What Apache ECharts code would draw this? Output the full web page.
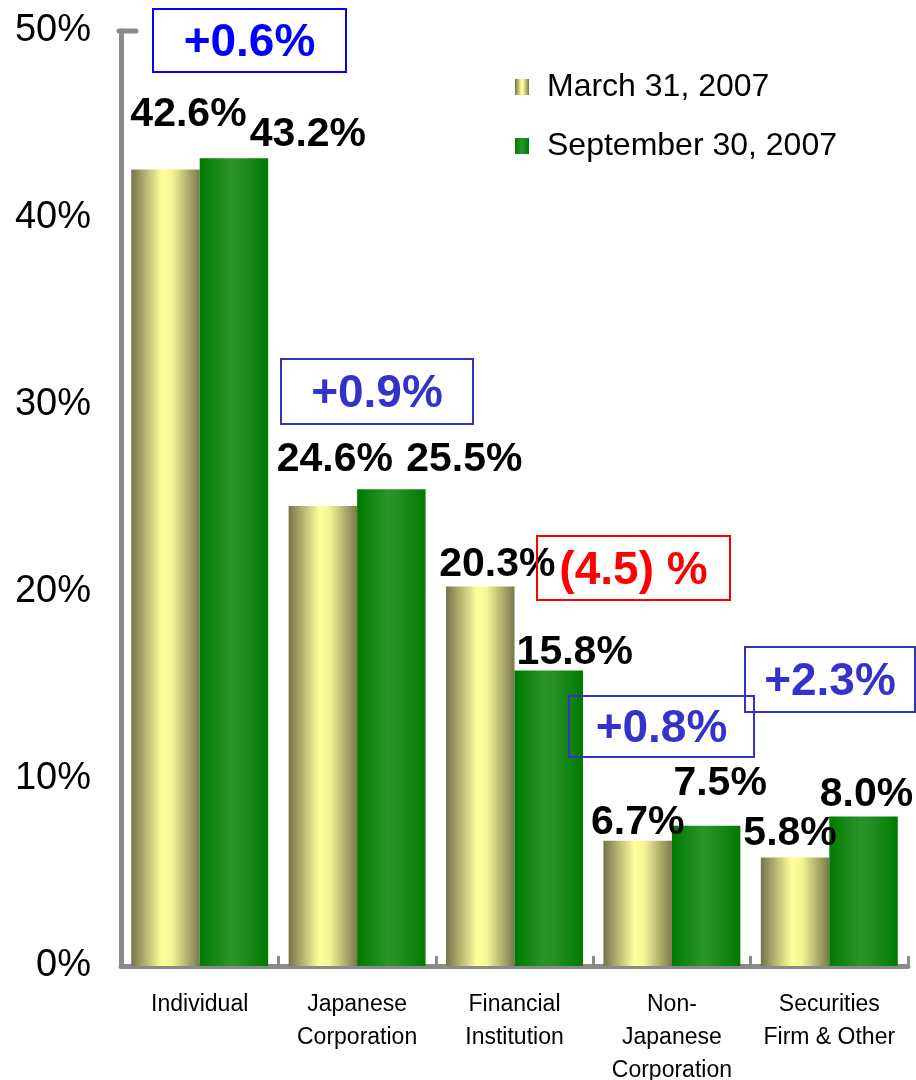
<!DOCTYPE html>
<html>
  <head>
    <meta charset="utf-8">
    <title>Shareholder composition</title>
    <script type="text/javascript" src="https://cdn.jsdelivr.net/npm/echarts@6/dist/echarts.min.js"></script>
    <style>
      html, body { margin: 0; padding: 0; background: #fff; }
      #chart { width: 916px; height: 1080px; }
    </style>
  </head>
  <body>
    <div id="chart"></div>
    <script type="text/javascript">

      // data
      var categories = ["Individual", "Japanese\nCorporation", "Financial\nInstitution", "Non-\nJapanese\nCorporation", "Securities\nFirm & Other"];
      var seriesNames = ["March 31, 2007", "September 30, 2007"];
      var march = [42.6, 24.6, 20.3, 6.7, 5.8];
      var sept = [43.2, 25.5, 15.8, 7.5, 8.0];
      var changeLabels = ["+0.6%", "+0.9%", "(4.5) %", "+0.8%", "+2.3%"];
      var yTicks = [0, 10, 20, 30, 40, 50];

      // label placement (px shifts from the bar top)
      var marchShift = [[23, -35], [12, -26], [17, -2], [0, 2], [-5, -4]];
      var septShift = [[74, -3], [73, -9], [26, 2], [14, -22], [3, -2]];

      // change boxes: x, y, w, h, colour
      var boxes = [
        [153, 9, 193, 63, "#0000ff"],
        [281, 359, 192, 65, "#3333cc"],
        [537, 536, 193, 64, "#ff0000"],
        [569, 696, 185, 61, "#3333cc"],
        [745, 647, 170, 65, "#3333cc"]
      ];

      var FONT = "'Liberation Sans', Arial, sans-serif";
      var GRAY = "#8a8a8a";

      var yellowGrad = new echarts.graphic.LinearGradient(0, 0, 1, 0, [
        { offset: 0, color: "#76734a" },
        { offset: 0.45, color: "#ffff9c" },
        { offset: 0.6, color: "#f4f494" },
        { offset: 1, color: "#7a774c" }
      ]);
      var greenGrad = new echarts.graphic.LinearGradient(0, 0, 1, 0, [
        { offset: 0, color: "#007a00" },
        { offset: 0.45, color: "#2a942a" },
        { offset: 0.55, color: "#279127" },
        { offset: 1, color: "#007a00" }
      ]);

      function buildData(vals, shifts){
        var out = [];
        for (var i = 0; i < vals.length; i++){
          out.push({
            value: vals[i],
            label: { offset: shifts[i] }
          });
        }
        return out;
      }

      var barLabel = {
        show: true,
        position: "top",
        distance: 0,
        color: "#000",
        fontFamily: FONT,
        fontWeight: "bold",
        fontSize: 41,
        lineHeight: 40,
        formatter: function(p){ return p.value.toFixed(1) + "%"; }
      };

      var graphics = [];
      for (var b = 0; b < boxes.length; b++){
        var bx = boxes[b];
        graphics.push({
          type: "rect",
          shape: { x: bx[0], y: bx[1], width: bx[2], height: bx[3] },
          style: { fill: "none", stroke: bx[4], lineWidth: 2 },
          z: 20
        });
        graphics.push({
          type: "text",
          x: bx[0] + bx[2] / 2,
          y: bx[1] + bx[3] / 2 + 3,
          style: {
            text: changeLabels[b],
            fill: bx[4],
            font: "bold 46px " + FONT,
            textAlign: "center",
            textVerticalAlign: "middle"
          },
          z: 21
        });
      }

      var myChart = echarts.init(document.getElementById("chart"));

      var option = {
        animation: false,
        backgroundColor: "#fff",
        grid: { left: 121, right: 8, top: 31, bottom: 114, outerBoundsMode: "none", containLabel: false },
        legend: {
          orient: "vertical",
          left: 510,
          top: 66,
          itemWidth: 14,
          itemHeight: 16,
          itemGap: 27,
          icon: "rect",
          data: seriesNames,
          textStyle: {
            fontFamily: FONT,
            fontSize: 32,
            color: "#000",
            padding: [0, 0, 0, 13]
          }
        },
        xAxis: {
          type: "category",
          data: categories,
          axisLine: { lineStyle: { color: GRAY, width: 5 } },
          axisTick: { show: true, inside: true, length: 10, lineStyle: { color: GRAY, width: 3 } },
          axisLabel: {
            interval: 0,
            margin: 22,
            color: "#000",
            fontFamily: FONT,
            fontSize: 23,
            lineHeight: 33
          }
        },
        yAxis: {
          type: "value",
          min: yTicks[0],
          max: yTicks[yTicks.length - 1],
          interval: 10,
          splitLine: { show: false },
          axisTick: { show: false },
          axisLine: { show: true, lineStyle: { color: GRAY, width: 5 } },
          axisLabel: {
            margin: 30,
            color: "#000",
            fontFamily: FONT,
            fontSize: 38,
            padding: [6, 0, 0, 0],
            formatter: "{value}%"
          }
        },
        series: [
          {
            name: seriesNames[0],
            type: "bar",
            barGap: "0%",
            barCategoryGap: "13%",
            itemStyle: { color: yellowGrad },
            label: barLabel,
            data: buildData(march, marchShift)
          },
          {
            name: seriesNames[1],
            type: "bar",
            itemStyle: { color: greenGrad },
            label: barLabel,
            data: buildData(sept, septShift)
          }
        ],
        graphic: graphics
      };

      myChart.setOption(option);

      // small cap at the top of the value axis
      var topY = myChart.convertToPixel({ yAxisIndex: 0 }, yTicks[yTicks.length - 1]);
      graphics.push({
        type: "line",
        shape: { x1: 119, y1: topY, x2: 136, y2: topY },
        style: { stroke: GRAY, lineWidth: 5, lineCap: "round" },
        z: 5
      });
      myChart.setOption({ graphic: graphics });

  </script>
  </body>
</html>
